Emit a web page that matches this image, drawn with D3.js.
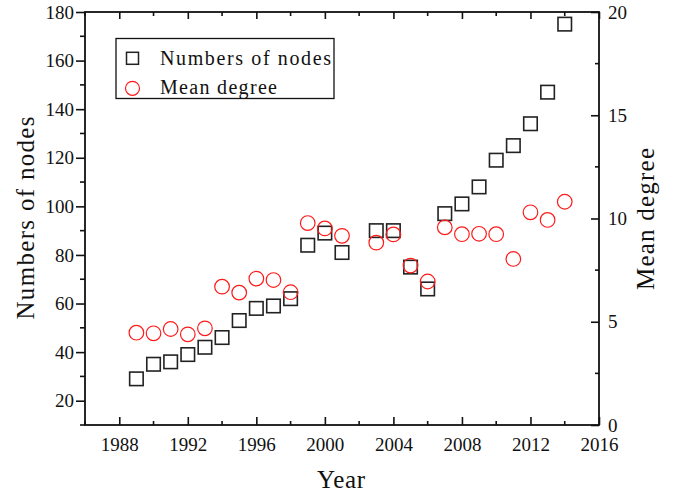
<!DOCTYPE html>
<html>
<head>
<meta charset="utf-8">
<script src="https://cdn.jsdelivr.net/npm/d3@7"></script>
<style>
  html, body { margin: 0; padding: 0; background: #fff; }
  svg { display: block; }
  text { font-family: "Liberation Serif", "DejaVu Serif", serif; fill: #111; }
</style>
</head>
<body>
<svg id="chart" width="680" height="494"></svg>
<script>
// Network growth by year: node counts (left axis) and mean degree (right axis)
const years = [1989, 1990, 1991, 1992, 1993, 1994, 1995, 1996, 1997, 1998,
               1999, 2000, 2001, 2003, 2004, 2005, 2006, 2007, 2008, 2009,
               2010, 2011, 2012, 2013, 2014];
const nodeCounts = [29, 35, 36, 39, 42, 46, 53, 58, 59, 62,
                    84, 89, 81, 90, 90, 75, 66, 97, 101, 108,
                    119, 125, 134, 147, 175];
const meanDegree = [4.47, 4.44, 4.65, 4.39, 4.68, 6.70, 6.41, 7.09, 7.02, 6.43,
                    9.78, 9.52, 9.16, 8.83, 9.23, 7.72, 6.95, 9.57, 9.24, 9.26,
                    9.24, 8.04, 10.30, 9.93, 10.81];

const xTicks = [1988, 1992, 1996, 2000, 2004, 2008, 2012, 2016];
const yLeftTicks = [20, 40, 60, 80, 100, 120, 140, 160, 180];
const yRightTicks = [0, 5, 10, 15, 20];
const seriesNames = ["Numbers of nodes", "Mean degree"];

const svg = d3.select("#chart");
const M = { left: 85, right: 599, top: 12, bottom: 425 };

const x = d3.scaleLinear().domain([1986, 2016]).range([M.left, M.right]);
const yL = d3.scaleLinear().domain([10, 180]).range([M.bottom, M.top]);
const yR = d3.scaleLinear().domain([0, 20]).range([M.bottom, M.top]);

const tickFont = "19px";

// minor tick positions
const xMinor = d3.range(1986, 2017, 2).filter(v => !xTicks.includes(v));
const yLMinor = d3.range(10, 181, 20);
const yRMinor = [2.5, 7.5, 12.5, 17.5];

function styleAxis(g) {
  g.select(".domain").remove();
  g.selectAll("line").attr("stroke", "#111").attr("stroke-width", 1.6);
  g.selectAll("text").style("font-size", tickFont).attr("fill", "#111");
}

// bottom axis: ticks point inward
const gB = svg.append("g").attr("transform", `translate(0,${M.bottom})`)
  .call(d3.axisBottom(x).tickValues(xTicks).tickFormat(d3.format("d"))
        .tickSizeInner(-8).tickSizeOuter(0).tickPadding(13));
styleAxis(gB);
gB.selectAll(".minor").data(xMinor).join("line")
  .attr("x1", d => x(d)).attr("x2", d => x(d)).attr("y1", 0).attr("y2", -4)
  .attr("stroke", "#111").attr("stroke-width", 1.6);

// top axis: ticks only, inward
const gT = svg.append("g").attr("transform", `translate(0,${M.top})`)
  .call(d3.axisTop(x).tickValues(xTicks).tickFormat("").tickSizeInner(-7).tickSizeOuter(0));
styleAxis(gT);
gT.selectAll(".minor").data(xMinor).join("line")
  .attr("x1", d => x(d)).attr("x2", d => x(d)).attr("y1", 0).attr("y2", 4)
  .attr("stroke", "#111").attr("stroke-width", 1.6);

// left axis: ticks point outward
const gL = svg.append("g").attr("transform", `translate(${M.left},0)`)
  .call(d3.axisLeft(yL).tickValues(yLeftTicks).tickSizeInner(9).tickSizeOuter(0).tickPadding(2));
styleAxis(gL);
gL.selectAll(".minor").data(yLMinor).join("line")
  .attr("x1", 0).attr("x2", -5).attr("y1", d => yL(d)).attr("y2", d => yL(d))
  .attr("stroke", "#111").attr("stroke-width", 1.6);

// right axis: ticks point inward
const gR = svg.append("g").attr("transform", `translate(${M.right},0)`)
  .call(d3.axisRight(yR).tickValues(yRightTicks).tickSizeInner(-8).tickSizeOuter(0).tickPadding(9));
styleAxis(gR);
gR.selectAll(".minor").data(yRMinor).join("line")
  .attr("x1", 0).attr("x2", -4).attr("y1", d => yR(d)).attr("y2", d => yR(d))
  .attr("stroke", "#111").attr("stroke-width", 1.6);

// frame
svg.append("rect")
  .attr("x", M.left).attr("y", M.top)
  .attr("width", M.right - M.left).attr("height", M.bottom - M.top)
  .attr("fill", "none").attr("stroke", "#111").attr("stroke-width", 1.8);

// data markers
const sq = 13.5;
svg.append("g").selectAll("rect").data(years).join("rect")
  .attr("x", (d, i) => x(d) - sq / 2)
  .attr("y", (d, i) => yL(nodeCounts[i]) - sq / 2)
  .attr("width", sq).attr("height", sq)
  .attr("fill", "none").attr("stroke", "#222").attr("stroke-width", 1.6);

svg.append("g").selectAll("circle").data(years).join("circle")
  .attr("cx", d => x(d))
  .attr("cy", (d, i) => yR(meanDegree[i]))
  .attr("r", 7.3)
  .attr("fill", "none").attr("stroke", "#ff1a1a").attr("stroke-width", 1.2);

// legend
const lg = svg.append("g");
lg.append("rect").attr("x", 116).attr("y", 38.5).attr("width", 218).attr("height", 60)
  .attr("fill", "#fff").attr("stroke", "#111").attr("stroke-width", 1.3);
lg.append("rect").attr("x", 132.5 - 6).attr("y", 58.3 - 6).attr("width", 12).attr("height", 12)
  .attr("fill", "none").attr("stroke", "#222").attr("stroke-width", 1.5);
lg.append("circle").attr("cx", 132.5).attr("cy", 88.3).attr("r", 7)
  .attr("fill", "none").attr("stroke", "#ff1a1a").attr("stroke-width", 1.2);
lg.append("text").attr("x", 160).attr("y", 64.5).style("font-size", "20px")
  .attr("textLength", 171).attr("lengthAdjust", "spacing").text(seriesNames[0]);
lg.append("text").attr("x", 160).attr("y", 94).style("font-size", "20px")
  .attr("textLength", 117).attr("lengthAdjust", "spacing").text(seriesNames[1]);

// axis titles
svg.append("text").attr("x", 341).attr("y", 488).attr("text-anchor", "middle")
  .style("font-size", "25px").attr("textLength", 48).attr("lengthAdjust", "spacing").text("Year");

svg.append("text").attr("transform", "translate(34,218) rotate(-90)")
  .attr("text-anchor", "middle").style("font-size", "25px")
  .attr("textLength", 203).attr("lengthAdjust", "spacing").text("Numbers of nodes");

svg.append("text").attr("transform", "translate(654,219) rotate(-90)")
  .attr("text-anchor", "middle").style("font-size", "25px")
  .attr("textLength", 142).attr("lengthAdjust", "spacing").text("Mean degree");
</script>
</body>
</html>
